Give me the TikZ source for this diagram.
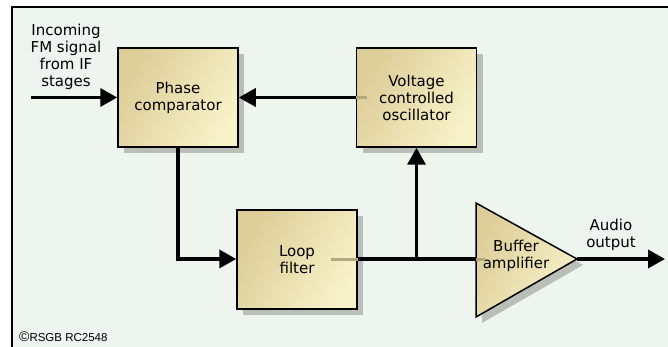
\documentclass[tikz,border=0pt]{standalone}
\usepackage{fontspec}
\setmainfont{DejaVu Sans}
\newfontfamily\smallfont{Liberation Sans}
\usetikzlibrary{arrows.meta,shadows}
\definecolor{bg}{HTML}{EEF5EE}
\definecolor{tanD}{HTML}{DDCD98}
\definecolor{tanL}{HTML}{F8F2C9}
\definecolor{shd}{HTML}{B9BFB7}
\definecolor{stub}{HTML}{B3A97F}
\begin{document}
\begin{tikzpicture}[x=1pt,y=-1pt,
  txt/.style={align=center,font=\fontsize{15}{17}\selectfont,inner sep=0pt},
  block/.style={txt,draw=black,line width=1.5pt,minimum width=120pt,minimum height=99pt,
    left color=tanD,right color=tanL,shading angle=60,
    drop shadow={shadow xshift=6pt,shadow yshift=-6pt,fill=shd,opacity=1}},
  wire/.style={line width=3.5pt},
  arr/.style={wire,-{Triangle[length=17pt,width=18pt]}},
  stubline/.style={line width=3pt,stub}]
\useasboundingbox (0,0) rectangle (668,347);
\fill[white] (0,0) rectangle (668,347);
\fill[bg] (12,7) rectangle (668,347);
\draw[line width=1.5pt] (12,347) -- (12,7) -- (668,7);

% blocks
\node[block] (pc) at (178,97.5) {Phase\\comparator};
\node[block] (vco) at (416.5,97.5) {Voltage\\controlled\\oscillator};
\node[block] (lf) at (297,259.5) {Loop\\filter};

% buffer amplifier triangle
\coordinate (ampT) at (476,203);
\coordinate (ampB) at (476,317);
\coordinate (ampTip) at (577,259);
\coordinate (ampIn) at (476,259);
\fill[shd] ([shift={(6,6)}]ampT) -- ([shift={(6,6)}]ampTip) -- ([shift={(6,6)}]ampB) -- cycle;
\shade[left color=tanD,right color=tanL,shading angle=60,draw=black,line width=1.5pt,line join=miter]
  (ampT) -- (ampTip) -- (ampB) -- cycle;
\node[txt] (amp) at (516,255.5) {Buffer\\amplifier};

% stubs inside blocks
\draw[stubline] (vco.west) -- ++(11,0);
\draw[stubline] (lf.east |- ampIn) -- ++(-27,0);
\draw[stubline] (ampIn) -- ++(9,0);

% texts
\node[txt] (inlbl) at (66,57) {Incoming\\FM signal\\from IF\\stages};
\node[txt] (outlbl) at (611,234.5) {Audio\\output};
\node[anchor=west,inner sep=0pt,font=\smallfont\fontsize{11.5}{13}\selectfont] (copy) at (19,337) {{\fontsize{14}{13}\selectfont\textcopyright}RSGB RC2548};

% connectors
\coordinate (in) at (31,97.5);
\coordinate (out) at (665,259);
\coordinate (jn) at (vco.south |- ampIn);
\draw[arr] (in) -- (pc.west);
\draw[arr] (vco.west) -- (pc.east);
\draw[arr] (pc.south) |- (lf.west |- ampIn);
\draw[wire] (lf.east |- ampIn) -- (ampIn);
\draw[arr] (jn) -- (vco.south);
\draw[arr] (ampTip) -- (out);
\end{tikzpicture}
\end{document}
